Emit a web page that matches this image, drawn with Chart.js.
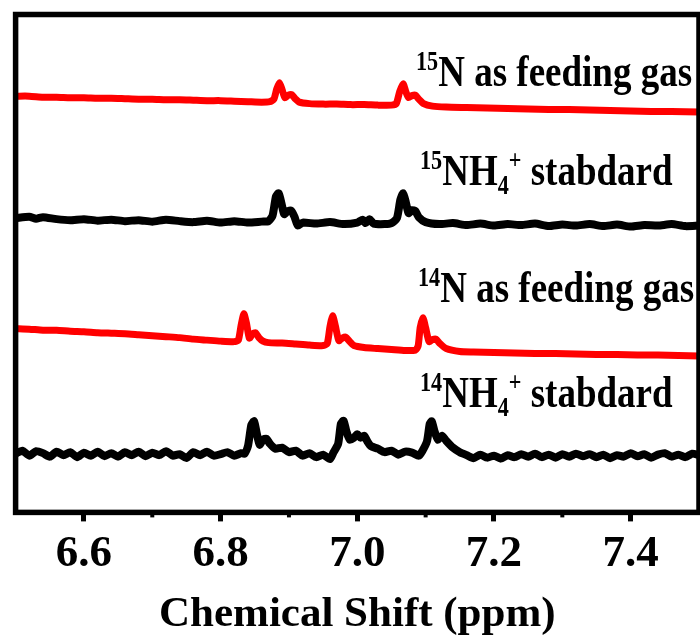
<!DOCTYPE html>
<html lang="en">
<head>
<meta charset="UTF-8">
<title>Chemical Shift (ppm)</title>
<script src="https://cdn.jsdelivr.net/npm/chart.js"></script>
<style>
  body { margin: 0; background: #fff; }
  #wrap { position: relative; width: 700px; height: 643px; }
</style>
</head>
<body>
<div id="wrap"><canvas id="nmrChart"></canvas></div>
<script>
// four stacked 1H NMR traces, top to bottom
const seriesNames = ['15N as feeding gas', '15NH4+ stabdard', '14N as feeding gas', '14NH4+ stabdard'];
const seriesColors = ['#ff0000', '#000000', '#ff0000', '#000000'];
const offsets = [83.6, 59.1, 36.9, 11.8];

const shift1 = [6.50, 6.52, 6.54, 6.56, 6.58, 6.60, 6.62, 6.64, 6.66, 6.68, 6.70, 6.72, 6.74, 6.76, 6.78, 6.80, 6.82, 6.84, 6.86,
  6.872, 6.878, 6.882, 6.886, 6.890, 6.894, 6.899, 6.904, 6.909, 6.915, 6.93, 6.95, 6.97, 6.99, 7.01, 7.03, 7.05,
  7.057, 7.062, 7.067, 7.071, 7.075, 7.080, 7.085, 7.090, 7.097, 7.11, 7.13, 7.16, 7.19, 7.22, 7.25, 7.28, 7.31, 7.34, 7.37, 7.40, 7.43, 7.46, 7.50];
const int1 = [0.0, 0.0, -0.2, -0.2, -0.3, -0.3, -0.4, -0.4, -0.5, -0.6, -0.6, -0.7, -0.7, -0.8, -0.9, -0.9, -1.0, -1.1, -1.2,
  -1.1, -0.6, 1.4, 2.7, 1.3, -0.3, 0.2, 0.3, -0.5, -1.2, -1.5, -1.6, -1.6, -1.7, -1.7, -1.8, -1.8,
  -1.5, 0.9, 2.5, 0.9, -0.3, 0.1, 0.2, -0.6, -1.5, -2.0, -2.2, -2.3, -2.4, -2.5, -2.6, -2.7, -2.7, -2.8, -2.9, -3.0, -3.1, -3.1, -3.2];

const shift2 = [6.50, 6.52, 6.53, 6.54, 6.56, 6.58, 6.60, 6.62, 6.64, 6.66, 6.68, 6.70, 6.72, 6.74, 6.76, 6.78, 6.80, 6.82, 6.84, 6.86, 6.87,
  6.876, 6.881, 6.885, 6.889, 6.893, 6.898, 6.903, 6.908, 6.913, 6.92, 6.94, 6.96, 6.98, 7.00, 7.008, 7.012, 7.018, 7.024, 7.04, 7.05,
  7.058, 7.063, 7.067, 7.071, 7.075, 7.080, 7.085, 7.090, 7.10, 7.12, 7.14, 7.16, 7.18, 7.20, 7.22, 7.24, 7.26, 7.28, 7.30, 7.32,
  7.34, 7.36, 7.38, 7.40, 7.42, 7.44, 7.46, 7.48, 7.50];
const int2 = [0.0, 0.3, -0.1, 0.2, -0.2, -0.4, -0.2, -0.5, -0.3, -0.6, -0.4, -0.7, -0.3, -0.6, -0.8, -0.5, -0.9, -0.6, -0.9, -0.7, -0.6,
  0.5, 4.4, 5.0, 3.0, 0.8, 1.4, 1.5, 0.3, -1.5, -0.9, -1.1, -0.8, -1.2, -0.9, -0.3, -1.0, -0.2, -1.1, -1.2, -1.0,
  0.0, 3.7, 5.0, 3.2, 1.0, 1.6, 1.4, 0.2, -0.8, -1.2, -1.0, -1.4, -1.1, -1.5, -1.2, -1.4, -1.1, -1.6, -1.3, -1.5,
  -1.2, -1.6, -1.3, -1.7, -1.4, -1.5, -1.2, -1.6, -1.5];

const shift3 = [6.50, 6.52, 6.54, 6.56, 6.58, 6.60, 6.62, 6.64, 6.66, 6.68, 6.70, 6.72, 6.74, 6.76, 6.78, 6.80, 6.82,
  6.826, 6.830, 6.834, 6.838, 6.842, 6.847, 6.851, 6.856, 6.862, 6.87, 6.89, 6.91, 6.93, 6.95,
  6.956, 6.960, 6.964, 6.968, 6.973, 6.978, 6.983, 6.989, 6.995, 7.01, 7.03, 7.05, 7.07,
  7.085, 7.089, 7.092, 7.096, 7.100, 7.105, 7.110, 7.115, 7.121, 7.13, 7.15, 7.17, 7.20, 7.23, 7.26, 7.29, 7.32, 7.35, 7.38, 7.41, 7.44, 7.47, 7.50];
const int3 = [0.0, -0.1, -0.3, -0.3, -0.5, -0.6, -0.8, -0.9, -1.0, -1.2, -1.4, -1.6, -1.8, -2.1, -2.3, -2.5, -2.6,
  -2.3, 0.7, 3.0, 1.0, -1.9, -1.0, -0.8, -1.8, -2.5, -2.8, -2.9, -3.1, -3.3, -3.4,
  -3.0, 0.4, 2.6, 0.5, -2.4, -1.9, -1.7, -2.6, -3.4, -3.8, -4.0, -4.2, -4.4,
  -4.3, -3.5, 0.2, 2.2, 0.2, -2.6, -2.2, -2.1, -3.0, -4.0, -4.6, -4.7, -4.8, -4.9, -5.0, -5.0, -5.1, -5.2, -5.2, -5.3, -5.3, -5.4, -5.5];

const shift4 = [6.50, 6.51, 6.52, 6.53, 6.54, 6.55, 6.56, 6.57, 6.58, 6.59, 6.60, 6.61, 6.62, 6.63, 6.64, 6.65, 6.66, 6.67, 6.68, 6.69,
  6.70, 6.71, 6.72, 6.73, 6.74, 6.75, 6.76, 6.77, 6.78, 6.79, 6.80, 6.81, 6.82, 6.83,
  6.835, 6.84, 6.845, 6.849, 6.853, 6.857, 6.862, 6.867, 6.872, 6.88, 6.89, 6.90, 6.91, 6.92, 6.93, 6.94, 6.95, 6.96,
  6.965, 6.972, 6.976, 6.980, 6.984, 6.989, 6.995, 7.000, 7.005, 7.010, 7.015, 7.02, 7.03, 7.04, 7.05, 7.06, 7.07, 7.08, 7.09,
  7.095, 7.102, 7.106, 7.109, 7.113, 7.118, 7.124, 7.130, 7.14, 7.15, 7.16, 7.17, 7.18, 7.19, 7.20, 7.21, 7.22, 7.23, 7.24, 7.25,
  7.26, 7.27, 7.28, 7.29, 7.30, 7.31, 7.32, 7.33, 7.34, 7.35, 7.36, 7.37, 7.38, 7.39, 7.40, 7.41, 7.42, 7.43, 7.44, 7.45,
  7.46, 7.47, 7.48, 7.49, 7.50];
const int4 = [0.0, 0.6, -0.4, 0.5, 0.1, -0.6, 0.4, -0.3, 0.3, -0.7, 0.2, -0.4, 0.4, -0.5, 0.1, -0.6, 0.3, -0.3, 0.4, -0.5,
  0.2, -0.3, 0.5, -0.4, -0.1, -0.9, 0.3, -0.3, 0.4, -0.4, -0.1, 0.3, -0.4, 0.1,
  0.0, 1.5, 5.8, 6.5, 4.0, 1.8, 2.8, 3.0, 2.0, 1.0, 1.2, 0.3, 0.6, -0.4, 0.1, -0.7, -0.2, -1.1,
  0.2, 2.0, 6.0, 6.6, 4.5, 2.8, 3.2, 3.9, 3.2, 3.6, 2.4, 1.5, 1.0, 0.3, 0.6, -0.2, 0.4, 0.2, -0.4,
  0.5, 2.5, 6.0, 6.5, 4.5, 2.8, 3.6, 2.6, 1.2, 0.3, -0.3, -0.9, -0.2, -0.8, -0.4, -1.0, -0.3, -0.7, -0.1, -0.6,
  0.0, -0.7, -0.2, -0.8, -0.1, -0.6, 0.0, -0.5, -0.1, -0.7, -0.2, -0.9, -0.3, -0.6, 0.1, -0.5, -0.1, -0.8, -0.2, 0.1,
  -0.6, -0.2, -0.7, 0.0, -0.3];

const majorTicks = [6.6, 6.8, 7.0, 7.2, 7.4];
const minorTicks = [6.7, 6.9, 7.1, 7.3];

// rich labels: [kind, text] where kind is n (normal), sup, sub
const labelParts = [
  [['sup', '15'], ['n', 'N as feeding gas']],
  [['sup', '15'], ['n', 'NH'], ['sub', '4'], ['sup', '+'], ['n', ' stabdard']],
  [['sup', '14'], ['n', 'N as feeding gas']],
  [['sup', '14'], ['n', 'NH'], ['sub', '4'], ['sup', '+'], ['n', ' stabdard']]
];

const serif = '"Liberation Serif", "Times New Roman", serif';
const shifts = [shift1, shift2, shift3, shift4];
const ints = [int1, int2, int3, int4];

const datasets = seriesNames.map((name, i) => ({
  label: name,
  data: shifts[i].map((x, j) => ({ x: x, y: ints[i][j] + offsets[i] })),
  borderColor: seriesColors[i],
  borderWidth: i % 2 ? 8 : 7,
  pointRadius: 0,
  tension: 0.2,
  borderJoinStyle: 'round',
  borderCapStyle: 'round'
}));

// text is drawn a little taller than wide, like the original figure
function drawRich(ctx, parts, x, y, size) {
  ctx.save();
  ctx.translate(x, y);
  ctx.scale(1, 1.2);
  let cx = 0;
  parts.forEach(p => {
    let s = size, dy = 0;
    if (p[0] === 'sup') { s = size * 0.6; dy = -size * 0.36; }
    if (p[0] === 'sub') { s = size * 0.6; dy = size * 0.2; }
    ctx.font = 'bold ' + s + 'px ' + serif;
    ctx.fillText(p[1], cx, dy);
    cx += ctx.measureText(p[1]).width;
  });
  ctx.restore();
}

const framePlugin = {
  id: 'frame',
  afterDraw(chart) {
    const { ctx, chartArea: a, scales } = chart;
    ctx.save();
    ctx.strokeStyle = '#000';
    ctx.lineWidth = 5.5;
    ctx.strokeRect(a.left, a.top, a.right - a.left, a.bottom - a.top);
    // minor ticks
    ctx.lineWidth = 4;
    minorTicks.forEach(v => {
      const px = scales.x.getPixelForValue(v);
      ctx.beginPath();
      ctx.moveTo(px, a.bottom);
      ctx.lineTo(px, a.bottom + 5);
      ctx.stroke();
    });
    // trace labels
    ctx.fillStyle = '#000';
    ctx.textBaseline = 'alphabetic';
    ctx.textAlign = 'left';
    const spots = [[416, 86], [420, 185], [418, 302], [420, 407]];
    labelParts.forEach((parts, i) => drawRich(ctx, parts, spots[i][0], spots[i][1], 37));
    ctx.restore();
  }
};

new Chart(document.getElementById('nmrChart'), {
  type: 'line',
  data: { datasets: datasets },
  options: {
    responsive: true,
    maintainAspectRatio: false,
    animation: false,
    layout: { padding: { left: 15.6, right: 1, top: 14.5, bottom: 0 } },
    plugins: { legend: { display: false }, tooltip: { enabled: false } },
    scales: {
      x: {
        type: 'linear',
        min: 6.5,
        max: 7.5,
        afterBuildTicks: axis => { axis.ticks = majorTicks.map(v => ({ value: v })); },
        ticks: {
          color: '#000',
          padding: 6,
          font: { family: serif, size: 45, weight: 'bold' },
          callback: v => v.toFixed(1)
        },
        grid: { drawOnChartArea: false, drawTicks: true, tickLength: 9, tickWidth: 5, tickColor: '#000' },
        border: { display: false },
        title: {
          display: true,
          text: 'Chemical Shift (ppm)',
          color: '#000',
          font: { family: serif, size: 43, weight: 'bold' },
          padding: { top: 2, bottom: 2 }
        }
      },
      y: { display: false, min: 0, max: 100 }
    }
  },
  plugins: [framePlugin]
});
</script>
</body>
</html>
